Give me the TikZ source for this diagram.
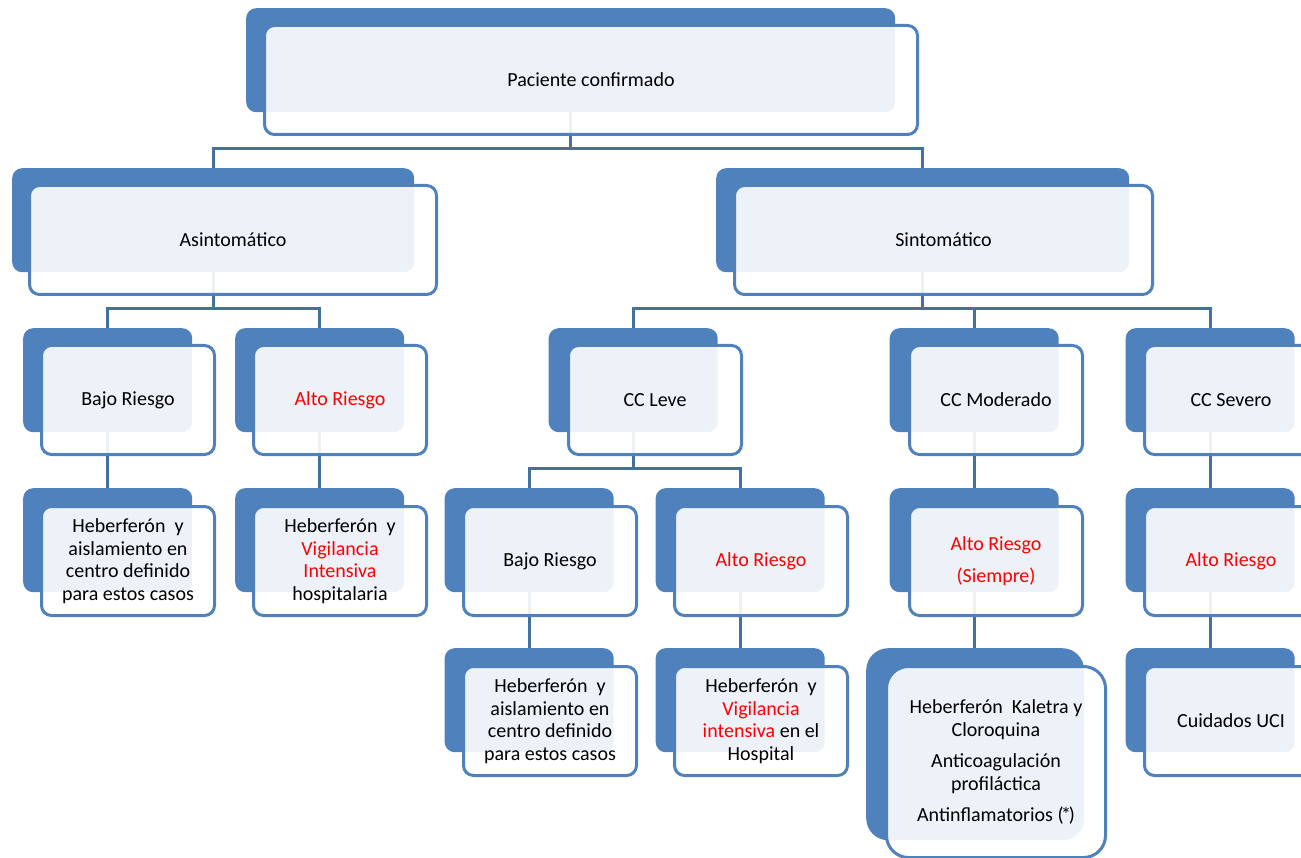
\documentclass[tikz,border=0pt]{standalone}
\usepackage{fontspec}
\setmainfont{Carlito}
\pgfdeclarelayer{bg}
\pgfsetlayers{bg,main}
\definecolor{accent}{HTML}{4F81BD}
\definecolor{connc}{HTML}{41719C}
\definecolor{alert}{HTML}{FF0000}
\newcommand{\rd}[1]{\textcolor{alert}{#1}}
\tikzset{
  backbox/.style={fill=accent, draw=none, rounded corners=10pt, anchor=north west,
    inner sep=0pt, minimum width=169pt, minimum height=104pt},
  frontbox/.style={draw=accent, line width=3pt, fill=white, fill opacity=0.9, text opacity=1,
    rounded corners=10pt, anchor=north west, inner sep=0pt, minimum width=173pt,
    minimum height=109pt, align=center, font=\fontsize{20}{22.5}\selectfont, text=black},
  conn/.style={draw=connc, line width=3pt}
}
\begin{document}
\begin{tikzpicture}[x=1pt,y=-1pt]
\useasboundingbox (0,0) rectangle (1301,858);
\begin{pgfonlayer}{bg}
\fill[white] (0,0) rectangle (1301,858);
\end{pgfonlayer}
\clip (0,0) rectangle (1301,858);
% level 1
\node[backbox, minimum width=649pt] (t0bk) at (246,8) {};
\node[frontbox, minimum width=653pt] (t0) at (263,24) {Paciente confirmado};
% level 2
\node[backbox, minimum width=402pt] (a0bk) at (12,168) {};
\node[frontbox, minimum width=407pt] (a0) at (28,184) {Asintomático};
\node[backbox, minimum width=413pt] (s0bk) at (716,168) {};
\node[frontbox, minimum width=418pt] (s0) at (733,184) {Sintomático};
% level 3
\node[backbox] (a1bk) at (23,328) {};
\node[frontbox] (a1) at (40,344) {Bajo Riesgo};
\node[backbox] (a2bk) at (235,328) {};
\node[frontbox] (a2) at (252,344) {\rd{Alto Riesgo}};
\node[backbox] (s1bk) at (548.5,328) {};
\node[frontbox] (s1) at (567,344) {CC Leve};
\node[backbox] (s2bk) at (889.5,328) {};
\node[frontbox] (s2) at (908,344) {CC Moderado};
\node[backbox] (s3bk) at (1125.5,328) {};
\node[frontbox] (s3) at (1143,344) {CC Severo};
% level 4
\node[backbox] (a1xbk) at (23,488) {};
\node[frontbox] (a1x) at (40,505) {Heberferón\ \ y\\aislamiento en\\centro definido\\para estos casos};
\node[backbox] (a2xbk) at (235,488) {};
\node[frontbox] (a2x) at (252,505) {Heberferón\ \ y\\\rd{Vigilancia}\\\rd{Intensiva}\\hospitalaria};
\node[backbox] (s1abk) at (444.5,488) {};
\node[frontbox] (s1a) at (462,505) {Bajo Riesgo};
\node[backbox] (s1bbk) at (655.5,488) {};
\node[frontbox] (s1b) at (673,505) {\rd{Alto Riesgo}};
\node[backbox] (s2abk) at (889.5,488) {};
\node[frontbox] (s2a) at (908,505) {\rd{Alto Riesgo}\\[9.5pt]\rd{(Siempre)}};
\node[backbox] (s3abk) at (1125.5,488) {};
\node[frontbox] (s3a) at (1143,505) {\rd{Alto Riesgo}};
% level 5
\node[backbox] (s1axbk) at (444.5,648) {};
\node[frontbox] (s1ax) at (462,665) {Heberferón\ \ y\\aislamiento en\\centro definido\\para estos casos};
\node[backbox] (s1bxbk) at (655.5,648) {};
\node[frontbox] (s1bx) at (673,665) {Heberferón\ \ y\\\rd{Vigilancia}\\\rd{intensiva} en el\\Hospital};
\node[backbox, rounded corners=22pt, minimum width=218pt, minimum height=192pt] (s2axbk) at (866,648) {};
\node[frontbox, rounded corners=22pt, minimum width=219pt, minimum height=191pt] (s2ax) at (885,665)
  {Heberferón\ \ Kaletra y\\Cloroquina\\[9pt]Anticoagulación\\profiláctica\\[9pt]Antinflamatorios (\kern-0.12em*\kern-0.12em)};
\node[backbox] (s3axbk) at (1125.5,648) {};
\node[frontbox] (s3ax) at (1143,665) {Cuidados UCI};
% connectors
\begin{pgfonlayer}{bg}
\draw[conn] (t0bk.south) -- ++(0,36) -| (a0bk.north);
\draw[conn] (t0bk.south) -- ++(0,36) -| (s0bk.north);
\draw[conn] (a0bk.south) -- ++(0,36) -| (a1bk.north);
\draw[conn] (a0bk.south) -- ++(0,36) -| (a2bk.north);
\draw[conn] (s0bk.south) -- ++(0,36) -| (s1bk.north);
\draw[conn] (s0bk.south) -- ++(0,36) -| (s2bk.north);
\draw[conn] (s0bk.south) -- ++(0,36) -| (s3bk.north);
\draw[conn] (a1bk.south) -- (a1xbk.north);
\draw[conn] (a2bk.south) -- (a2xbk.north);
\draw[conn] (s1bk.south) -- ++(0,36) -| (s1abk.north);
\draw[conn] (s1bk.south) -- ++(0,36) -| (s1bbk.north);
\draw[conn] (s2bk.south) -- (s2abk.north);
\draw[conn] (s3bk.south) -- (s3abk.north);
\draw[conn] (s1abk.south) -- (s1axbk.north);
\draw[conn] (s1bbk.south) -- (s1bxbk.north);
\draw[conn] (s2abk.south) -- (s2abk.south |- s2axbk.north);
\draw[conn] (s3abk.south) -- (s3axbk.north);
\end{pgfonlayer}
\end{tikzpicture}
\end{document}
